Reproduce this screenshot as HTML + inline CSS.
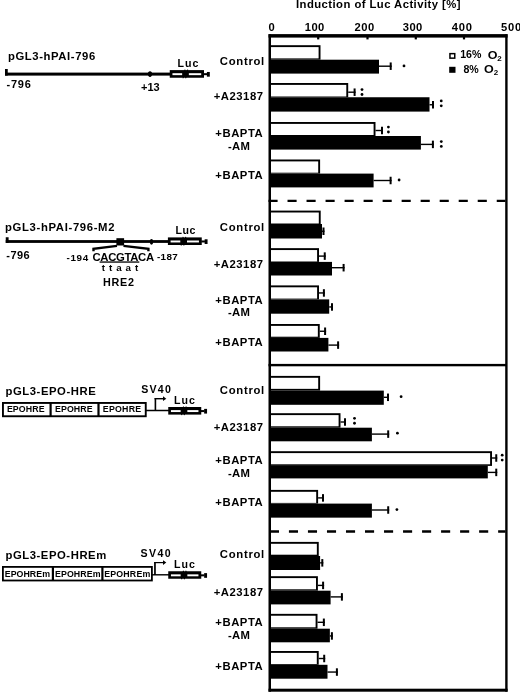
<!DOCTYPE html>
<html><head><meta charset="utf-8"><style>
html,body{margin:0;padding:0;background:#fff;}
svg{display:block;will-change:transform;}
text{font-family:"Liberation Sans",sans-serif;font-weight:bold;fill:#000;}
</style></head><body>
<svg width="520" height="694" viewBox="0 0 520 694">
<rect width="520" height="694" fill="#fff"/>
<text x="296.00" y="7.8" font-size="11.3" letter-spacing="0.442">Induction of Luc Activity [%]</text>
<text x="268.50" y="30.6" font-size="11.2" letter-spacing="0.000">0</text>
<text x="304.80" y="30.6" font-size="11.2" letter-spacing="0.359">100</text>
<text x="354.50" y="30.6" font-size="11.2" letter-spacing="0.509">200</text>
<text x="402.80" y="30.6" font-size="11.2" letter-spacing="0.359">300</text>
<text x="451.80" y="30.6" font-size="11.2" letter-spacing="0.759">400</text>
<text x="501.00" y="30.6" font-size="11.2" letter-spacing="0.759">500</text>
<rect x="268.50" y="34.10" width="239.10" height="3.50" fill="#000" />
<rect x="268.50" y="688.70" width="239.10" height="3.00" fill="#000" />
<rect x="268.50" y="34.30" width="2.50" height="657.40" fill="#000" />
<rect x="505.20" y="34.30" width="2.40" height="657.40" fill="#000" />
<rect x="317.10" y="37.00" width="2.20" height="2.40" fill="#000" />
<rect x="366.40" y="37.00" width="2.20" height="2.40" fill="#000" />
<rect x="414.70" y="37.00" width="2.20" height="2.40" fill="#000" />
<rect x="462.90" y="37.00" width="2.20" height="2.40" fill="#000" />
<line x1="268.5" y1="200.9" x2="505.5" y2="200.9" stroke="#000" stroke-width="2.3" stroke-dasharray="9.1 9.92" stroke-dashoffset="0"/>
<rect x="268.50" y="363.90" width="238.50" height="2.40" fill="#000" />
<line x1="268.5" y1="531.5" x2="505.5" y2="531.5" stroke="#000" stroke-width="2.3" stroke-dasharray="9.1 9.92" stroke-dashoffset="-1.4"/>
<rect x="271.00" y="45.20" width="49.50" height="14.50" fill="#000" />
<rect x="271.00" y="47.10" width="47.60" height="11.30" fill="#fff" />
<rect x="271.00" y="59.70" width="108.00" height="13.90" fill="#000" />
<line x1="379.0" y1="66.2" x2="391.7" y2="66.2" stroke="#000" stroke-width="1.4"/>
<rect x="389.70" y="62.45" width="2.00" height="7.50" fill="#000" />
<circle cx="404.0" cy="65.9" r="1.4" fill="#000"/>
<rect x="271.00" y="83.00" width="77.20" height="14.25" fill="#000" />
<rect x="271.00" y="84.90" width="75.30" height="11.60" fill="#fff" />
<rect x="271.00" y="97.25" width="158.50" height="14.35" fill="#000" />
<line x1="348.2" y1="92.2" x2="355.6" y2="92.2" stroke="#000" stroke-width="1.4"/>
<rect x="353.60" y="88.45" width="2.00" height="7.50" fill="#000" />
<line x1="429.5" y1="104.75" x2="434.0" y2="104.75" stroke="#000" stroke-width="1.4"/>
<rect x="432.00" y="101.00" width="2.00" height="7.50" fill="#000" />
<circle cx="362.0" cy="89.6" r="1.4" fill="#000"/>
<circle cx="362.0" cy="94.5" r="1.4" fill="#000"/>
<circle cx="441.25" cy="100.95" r="1.4" fill="#000"/>
<circle cx="441.25" cy="105.85000000000001" r="1.4" fill="#000"/>
<rect x="271.00" y="122.00" width="104.50" height="14.00" fill="#000" />
<rect x="271.00" y="123.90" width="102.60" height="11.10" fill="#fff" />
<rect x="271.00" y="136.00" width="149.90" height="13.60" fill="#000" />
<line x1="375.5" y1="130.5" x2="383.0" y2="130.5" stroke="#000" stroke-width="1.4"/>
<rect x="381.00" y="126.75" width="2.00" height="7.50" fill="#000" />
<line x1="420.9" y1="144.4" x2="433.9" y2="144.4" stroke="#000" stroke-width="1.4"/>
<rect x="431.90" y="140.65" width="2.00" height="7.50" fill="#000" />
<circle cx="388.4" cy="127.10000000000001" r="1.4" fill="#000"/>
<circle cx="388.4" cy="132.0" r="1.4" fill="#000"/>
<circle cx="441.3" cy="141.55" r="1.4" fill="#000"/>
<circle cx="441.3" cy="146.45" r="1.4" fill="#000"/>
<rect x="271.00" y="159.50" width="49.10" height="14.10" fill="#000" />
<rect x="271.00" y="161.40" width="47.20" height="11.30" fill="#fff" />
<rect x="271.00" y="173.60" width="102.60" height="13.80" fill="#000" />
<line x1="373.6" y1="180.5" x2="391.6" y2="180.5" stroke="#000" stroke-width="1.4"/>
<rect x="389.60" y="176.75" width="2.00" height="7.50" fill="#000" />
<circle cx="399.1" cy="180.0" r="1.4" fill="#000"/>
<rect x="271.00" y="210.60" width="49.70" height="13.40" fill="#000" />
<rect x="271.00" y="212.50" width="47.80" height="11.00" fill="#fff" />
<rect x="271.00" y="224.00" width="51.00" height="14.50" fill="#000" />
<line x1="322.0" y1="231.25" x2="324.5" y2="231.25" stroke="#000" stroke-width="1.4"/>
<rect x="322.50" y="227.50" width="2.00" height="7.50" fill="#000" />
<rect x="271.00" y="248.15" width="48.00" height="13.75" fill="#000" />
<rect x="271.00" y="250.05" width="46.10" height="11.45" fill="#fff" />
<rect x="271.00" y="261.90" width="61.00" height="13.60" fill="#000" />
<line x1="319.0" y1="256.1" x2="325.75" y2="256.1" stroke="#000" stroke-width="1.4"/>
<rect x="323.75" y="252.35" width="2.00" height="7.50" fill="#000" />
<line x1="332.0" y1="267.7" x2="344.6" y2="267.7" stroke="#000" stroke-width="1.4"/>
<rect x="342.60" y="263.95" width="2.00" height="7.50" fill="#000" />
<rect x="271.00" y="285.40" width="48.00" height="14.00" fill="#000" />
<rect x="271.00" y="287.30" width="46.10" height="11.30" fill="#fff" />
<rect x="271.00" y="299.40" width="58.20" height="14.30" fill="#000" />
<line x1="319.0" y1="292.95" x2="324.9" y2="292.95" stroke="#000" stroke-width="1.4"/>
<rect x="322.90" y="289.20" width="2.00" height="7.50" fill="#000" />
<line x1="329.2" y1="306.95" x2="333.0" y2="306.95" stroke="#000" stroke-width="1.4"/>
<rect x="331.00" y="303.20" width="2.00" height="7.50" fill="#000" />
<rect x="271.00" y="324.00" width="48.75" height="13.90" fill="#000" />
<rect x="271.00" y="325.90" width="46.85" height="10.80" fill="#fff" />
<rect x="271.00" y="337.90" width="57.40" height="13.60" fill="#000" />
<line x1="319.75" y1="331.25" x2="326.1" y2="331.25" stroke="#000" stroke-width="1.4"/>
<rect x="324.10" y="327.50" width="2.00" height="7.50" fill="#000" />
<line x1="328.4" y1="345.1" x2="339.1" y2="345.1" stroke="#000" stroke-width="1.4"/>
<rect x="337.10" y="341.35" width="2.00" height="7.50" fill="#000" />
<rect x="271.00" y="375.90" width="49.10" height="14.70" fill="#000" />
<rect x="271.00" y="377.80" width="47.20" height="11.05" fill="#fff" />
<rect x="271.00" y="390.60" width="112.80" height="14.20" fill="#000" />
<line x1="383.8" y1="397.3" x2="389.0" y2="397.3" stroke="#000" stroke-width="1.4"/>
<rect x="387.00" y="393.55" width="2.00" height="7.50" fill="#000" />
<circle cx="401.1" cy="396.7" r="1.4" fill="#000"/>
<rect x="271.00" y="413.20" width="69.50" height="14.50" fill="#000" />
<rect x="271.00" y="415.10" width="67.60" height="11.20" fill="#fff" />
<rect x="271.00" y="427.70" width="100.90" height="13.60" fill="#000" />
<line x1="340.5" y1="422.0" x2="346.0" y2="422.0" stroke="#000" stroke-width="1.4"/>
<rect x="344.00" y="418.25" width="2.00" height="7.50" fill="#000" />
<line x1="371.9" y1="434.1" x2="389.2" y2="434.1" stroke="#000" stroke-width="1.4"/>
<rect x="387.20" y="430.35" width="2.00" height="7.50" fill="#000" />
<circle cx="354.5" cy="418.35" r="1.4" fill="#000"/>
<circle cx="354.5" cy="423.25" r="1.4" fill="#000"/>
<circle cx="397.4" cy="433.2" r="1.4" fill="#000"/>
<rect x="271.00" y="451.20" width="221.00" height="14.70" fill="#000" />
<rect x="271.00" y="453.10" width="219.10" height="11.20" fill="#fff" />
<rect x="271.00" y="465.90" width="216.80" height="12.50" fill="#000" />
<line x1="492.0" y1="458.0" x2="497.25" y2="458.0" stroke="#000" stroke-width="1.4"/>
<rect x="495.25" y="454.25" width="2.00" height="7.50" fill="#000" />
<line x1="487.8" y1="472.4" x2="497.25" y2="472.4" stroke="#000" stroke-width="1.4"/>
<rect x="495.25" y="468.65" width="2.00" height="7.50" fill="#000" />
<circle cx="502.2" cy="455.15000000000003" r="1.4" fill="#000"/>
<circle cx="502.2" cy="460.05" r="1.4" fill="#000"/>
<rect x="271.00" y="489.90" width="47.10" height="13.70" fill="#000" />
<rect x="271.00" y="491.80" width="45.20" height="11.10" fill="#fff" />
<rect x="271.00" y="503.60" width="100.90" height="14.05" fill="#000" />
<line x1="318.1" y1="497.9" x2="324.0" y2="497.9" stroke="#000" stroke-width="1.4"/>
<rect x="322.00" y="494.15" width="2.00" height="7.50" fill="#000" />
<line x1="371.9" y1="510.0" x2="389.2" y2="510.0" stroke="#000" stroke-width="1.4"/>
<rect x="387.20" y="506.25" width="2.00" height="7.50" fill="#000" />
<circle cx="396.9" cy="509.6" r="1.4" fill="#000"/>
<rect x="271.00" y="541.90" width="47.75" height="14.10" fill="#000" />
<rect x="271.00" y="543.80" width="45.85" height="10.90" fill="#fff" />
<rect x="271.00" y="556.00" width="49.10" height="14.00" fill="#000" />
<line x1="320.1" y1="562.85" x2="323.3" y2="562.85" stroke="#000" stroke-width="1.4"/>
<rect x="321.30" y="559.10" width="2.00" height="7.50" fill="#000" />
<rect x="271.00" y="576.20" width="46.90" height="14.50" fill="#000" />
<rect x="271.00" y="578.10" width="45.00" height="11.20" fill="#fff" />
<rect x="271.00" y="590.70" width="59.60" height="13.70" fill="#000" />
<line x1="317.9" y1="585.4" x2="324.1" y2="585.4" stroke="#000" stroke-width="1.4"/>
<rect x="322.10" y="581.65" width="2.00" height="7.50" fill="#000" />
<line x1="330.6" y1="596.9" x2="342.9" y2="596.9" stroke="#000" stroke-width="1.4"/>
<rect x="340.90" y="593.15" width="2.00" height="7.50" fill="#000" />
<rect x="271.00" y="613.85" width="46.50" height="14.85" fill="#000" />
<rect x="271.00" y="615.75" width="44.60" height="11.55" fill="#fff" />
<rect x="271.00" y="628.70" width="58.85" height="13.60" fill="#000" />
<line x1="317.5" y1="622.3" x2="324.85" y2="622.3" stroke="#000" stroke-width="1.4"/>
<rect x="322.85" y="618.55" width="2.00" height="7.50" fill="#000" />
<line x1="329.85" y1="635.95" x2="332.9" y2="635.95" stroke="#000" stroke-width="1.4"/>
<rect x="330.90" y="632.20" width="2.00" height="7.50" fill="#000" />
<rect x="271.00" y="651.00" width="47.70" height="13.80" fill="#000" />
<rect x="271.00" y="652.90" width="45.80" height="11.10" fill="#fff" />
<rect x="271.00" y="664.80" width="56.50" height="13.90" fill="#000" />
<line x1="318.7" y1="658.5" x2="325.2" y2="658.5" stroke="#000" stroke-width="1.4"/>
<rect x="323.20" y="654.75" width="2.00" height="7.50" fill="#000" />
<line x1="327.5" y1="672.05" x2="337.9" y2="672.05" stroke="#000" stroke-width="1.4"/>
<rect x="335.90" y="668.30" width="2.00" height="7.50" fill="#000" />
<rect x="449.20" y="52.90" width="6.30" height="6.00" fill="#000" />
<rect x="450.70" y="54.40" width="3.30" height="3.00" fill="#fff" />
<rect x="449.20" y="66.80" width="6.30" height="6.00" fill="#000" />
<text x="460.20" y="58.4" font-size="10.6" letter-spacing="0.045">16%</text>
<text transform="translate(487.70 58.5) scale(1.18 1)" font-size="10.6">O</text>
<text transform="translate(497.30 60.5) scale(1.05 1)" font-size="7.6">2</text>
<text x="463.60" y="73.3" font-size="10.6" letter-spacing="-0.317">8%</text>
<text transform="translate(483.90 73.4) scale(1.18 1)" font-size="10.6">O</text>
<text transform="translate(493.70 75.3) scale(1.05 1)" font-size="7.6">2</text>
<text x="219.80" y="65.2" font-size="11.3" letter-spacing="0.718">Control</text>
<text x="213.75" y="100.4" font-size="11.3" letter-spacing="0.511">+A23187</text>
<text x="215.25" y="137.25" font-size="11.3" letter-spacing="0.564">+BAPTA</text>
<text x="228.10" y="149.75" font-size="11.3" letter-spacing="0.233">-AM</text>
<text x="215.25" y="179.4" font-size="11.3" letter-spacing="0.564">+BAPTA</text>
<text x="219.80" y="230.9" font-size="11.3" letter-spacing="0.718">Control</text>
<text x="213.75" y="267.9" font-size="11.3" letter-spacing="0.511">+A23187</text>
<text x="215.25" y="303.75" font-size="11.3" letter-spacing="0.564">+BAPTA</text>
<text x="228.10" y="316.25" font-size="11.3" letter-spacing="0.233">-AM</text>
<text x="215.25" y="346.25" font-size="11.3" letter-spacing="0.564">+BAPTA</text>
<text x="219.80" y="394.0" font-size="11.3" letter-spacing="0.718">Control</text>
<text x="213.75" y="430.6" font-size="11.3" letter-spacing="0.511">+A23187</text>
<text x="215.25" y="463.75" font-size="11.3" letter-spacing="0.564">+BAPTA</text>
<text x="228.10" y="476.5" font-size="11.3" letter-spacing="0.233">-AM</text>
<text x="215.25" y="505.6" font-size="11.3" letter-spacing="0.564">+BAPTA</text>
<text x="219.80" y="558.4" font-size="11.3" letter-spacing="0.718">Control</text>
<text x="213.75" y="596.0" font-size="11.3" letter-spacing="0.511">+A23187</text>
<text x="215.25" y="626.25" font-size="11.3" letter-spacing="0.564">+BAPTA</text>
<text x="228.10" y="639.0" font-size="11.3" letter-spacing="0.233">-AM</text>
<text x="215.25" y="670.25" font-size="11.3" letter-spacing="0.564">+BAPTA</text>
<text x="8.00" y="59.8" font-size="11.3" letter-spacing="0.586">pGL3-hPAI-796</text>
<rect x="5.00" y="72.60" width="165.00" height="3.00" fill="#000" />
<rect x="5.00" y="69.00" width="2.75" height="6.60" fill="#000" />
<text x="6.50" y="87.6" font-size="11.0" letter-spacing="0.763">-796</text>
<ellipse cx="150" cy="74.1" rx="2.1" ry="2.8" fill="#000"/>
<text x="141.00" y="90.6" font-size="11.0" letter-spacing="0.022">+13</text>
<text x="177.40" y="66.5" font-size="10.6" letter-spacing="1.127">Luc</text>
<rect x="169.75" y="70.10" width="34.25" height="7.65" fill="#000" />
<rect x="172.45" y="73.20" width="9.70" height="1.95" fill="#fff" />
<rect x="188.85" y="73.20" width="12.35" height="1.95" fill="#fff" />
<line x1="185.05" y1="69.60" x2="183.05" y2="78.25" stroke="#000" stroke-width="1.1"/>
<line x1="187.65" y1="69.60" x2="185.65" y2="78.25" stroke="#000" stroke-width="1.1"/>
<rect x="203.50" y="73.17" width="3.70" height="2.00" fill="#000" />
<rect x="206.90" y="71.97" width="2.90" height="4.70" fill="#000" />
<text x="5.00" y="231.3" font-size="11.3" letter-spacing="0.659">pGL3-hPAI-796-M2</text>
<rect x="5.75" y="240.10" width="162.25" height="2.80" fill="#000" />
<rect x="5.75" y="237.25" width="2.85" height="5.65" fill="#000" />
<text x="6.30" y="258.6" font-size="11.0" letter-spacing="0.430">-796</text>
<rect x="116.40" y="238.20" width="7.70" height="7.30" fill="#000" />
<polyline points="93.5,251.2 93.5,248.7 117,245.9" fill="none" stroke="#000" stroke-width="2.4"/>
<polyline points="123.5,245.9 148.4,248.7 148.4,251.2" fill="none" stroke="#000" stroke-width="2.4"/>
<ellipse cx="151.5" cy="241.8" rx="1.7" ry="2.9" fill="#000"/>
<text x="66.50" y="261.4" font-size="9.9" letter-spacing="0.630">-194</text>
<text x="92.50" y="261.0" font-size="11.3" letter-spacing="-0.316">CACGTACA</text>
<text x="157.00" y="259.6" font-size="9.9" letter-spacing="0.330">-187</text>
<rect x="99.60" y="261.40" width="39.70" height="1.30" fill="#000" />
<text x="101.70" y="271.3" font-size="9.8" letter-spacing="3.978">ttaat</text>
<text x="102.90" y="285.5" font-size="10.8" letter-spacing="0.762">HRE2</text>
<text x="175.40" y="234.0" font-size="10.6" letter-spacing="0.577">Luc</text>
<rect x="167.90" y="237.40" width="33.85" height="7.60" fill="#000" />
<rect x="170.60" y="240.50" width="9.70" height="1.95" fill="#fff" />
<rect x="187.00" y="240.50" width="11.95" height="1.95" fill="#fff" />
<line x1="183.20" y1="236.90" x2="181.20" y2="245.50" stroke="#000" stroke-width="1.1"/>
<line x1="185.80" y1="236.90" x2="183.80" y2="245.50" stroke="#000" stroke-width="1.1"/>
<rect x="201.25" y="240.47" width="3.70" height="2.00" fill="#000" />
<rect x="204.65" y="239.28" width="2.90" height="4.70" fill="#000" />
<text x="5.50" y="394.8" font-size="11.3" letter-spacing="0.556">pGL3-EPO-HRE</text>
<rect x="2.00" y="402.00" width="144.70" height="15.20" fill="#000" />
<rect x="3.90" y="403.90" width="45.60" height="11.40" fill="#fff" />
<rect x="51.70" y="403.90" width="45.70" height="11.40" fill="#fff" />
<rect x="99.60" y="403.90" width="45.20" height="11.40" fill="#fff" />
<text x="6.90" y="411.7" font-size="8.8" letter-spacing="0.108">EPOHRE</text>
<text x="55.00" y="411.7" font-size="8.8" letter-spacing="0.088">EPOHRE</text>
<text x="102.80" y="411.7" font-size="8.8" letter-spacing="0.248">EPOHRE</text>
<rect x="146.00" y="409.75" width="23.00" height="1.50" fill="#000" />
<rect x="154.60" y="398.00" width="1.60" height="12.50" fill="#000" />
<rect x="154.60" y="398.00" width="9.20" height="1.40" fill="#000" />
<polygon points="163,396.2 166.3,398.7 163,401.1" fill="#000"/>
<text x="141.20" y="392.6" font-size="10.6" letter-spacing="1.257">SV40</text>
<text x="173.90" y="404.0" font-size="10.6" letter-spacing="1.027">Luc</text>
<rect x="168.25" y="407.00" width="33.00" height="7.60" fill="#000" />
<rect x="170.95" y="410.10" width="9.70" height="1.95" fill="#fff" />
<rect x="187.35" y="410.10" width="11.10" height="1.95" fill="#fff" />
<line x1="183.55" y1="406.50" x2="181.55" y2="415.10" stroke="#000" stroke-width="1.1"/>
<line x1="186.15" y1="406.50" x2="184.15" y2="415.10" stroke="#000" stroke-width="1.1"/>
<rect x="200.75" y="410.08" width="3.70" height="2.00" fill="#000" />
<rect x="204.15" y="408.88" width="2.90" height="4.70" fill="#000" />
<text x="5.50" y="559.4" font-size="11.3" letter-spacing="0.548">pGL3-EPO-HREm</text>
<rect x="2.00" y="566.00" width="150.80" height="15.40" fill="#000" />
<rect x="3.80" y="567.80" width="48.00" height="11.80" fill="#fff" />
<rect x="54.00" y="567.80" width="47.30" height="11.80" fill="#fff" />
<rect x="103.50" y="567.80" width="47.50" height="11.80" fill="#fff" />
<text x="4.80" y="576.8" font-size="8.8" letter-spacing="0.036">EPOHREm</text>
<text x="55.00" y="576.8" font-size="8.8" letter-spacing="0.086">EPOHREm</text>
<text x="104.20" y="576.8" font-size="8.8" letter-spacing="0.186">EPOHREm</text>
<rect x="152.00" y="574.10" width="17.00" height="1.40" fill="#000" />
<rect x="154.10" y="562.20" width="1.70" height="12.80" fill="#000" />
<rect x="154.10" y="562.00" width="9.70" height="1.20" fill="#000" />
<polygon points="163,560.3 166.3,562.6 163,564.9" fill="#000"/>
<text x="140.50" y="557.0" font-size="10.6" letter-spacing="1.374">SV40</text>
<text x="173.90" y="568.2" font-size="10.6" letter-spacing="1.027">Luc</text>
<rect x="168.25" y="571.25" width="33.00" height="7.50" fill="#000" />
<rect x="170.95" y="574.35" width="9.70" height="1.95" fill="#fff" />
<rect x="187.35" y="574.35" width="11.10" height="1.95" fill="#fff" />
<line x1="183.55" y1="570.75" x2="181.55" y2="579.25" stroke="#000" stroke-width="1.1"/>
<line x1="186.15" y1="570.75" x2="184.15" y2="579.25" stroke="#000" stroke-width="1.1"/>
<rect x="200.75" y="574.33" width="3.70" height="2.00" fill="#000" />
<rect x="204.15" y="573.12" width="2.90" height="4.70" fill="#000" />
</svg>
</body></html>
